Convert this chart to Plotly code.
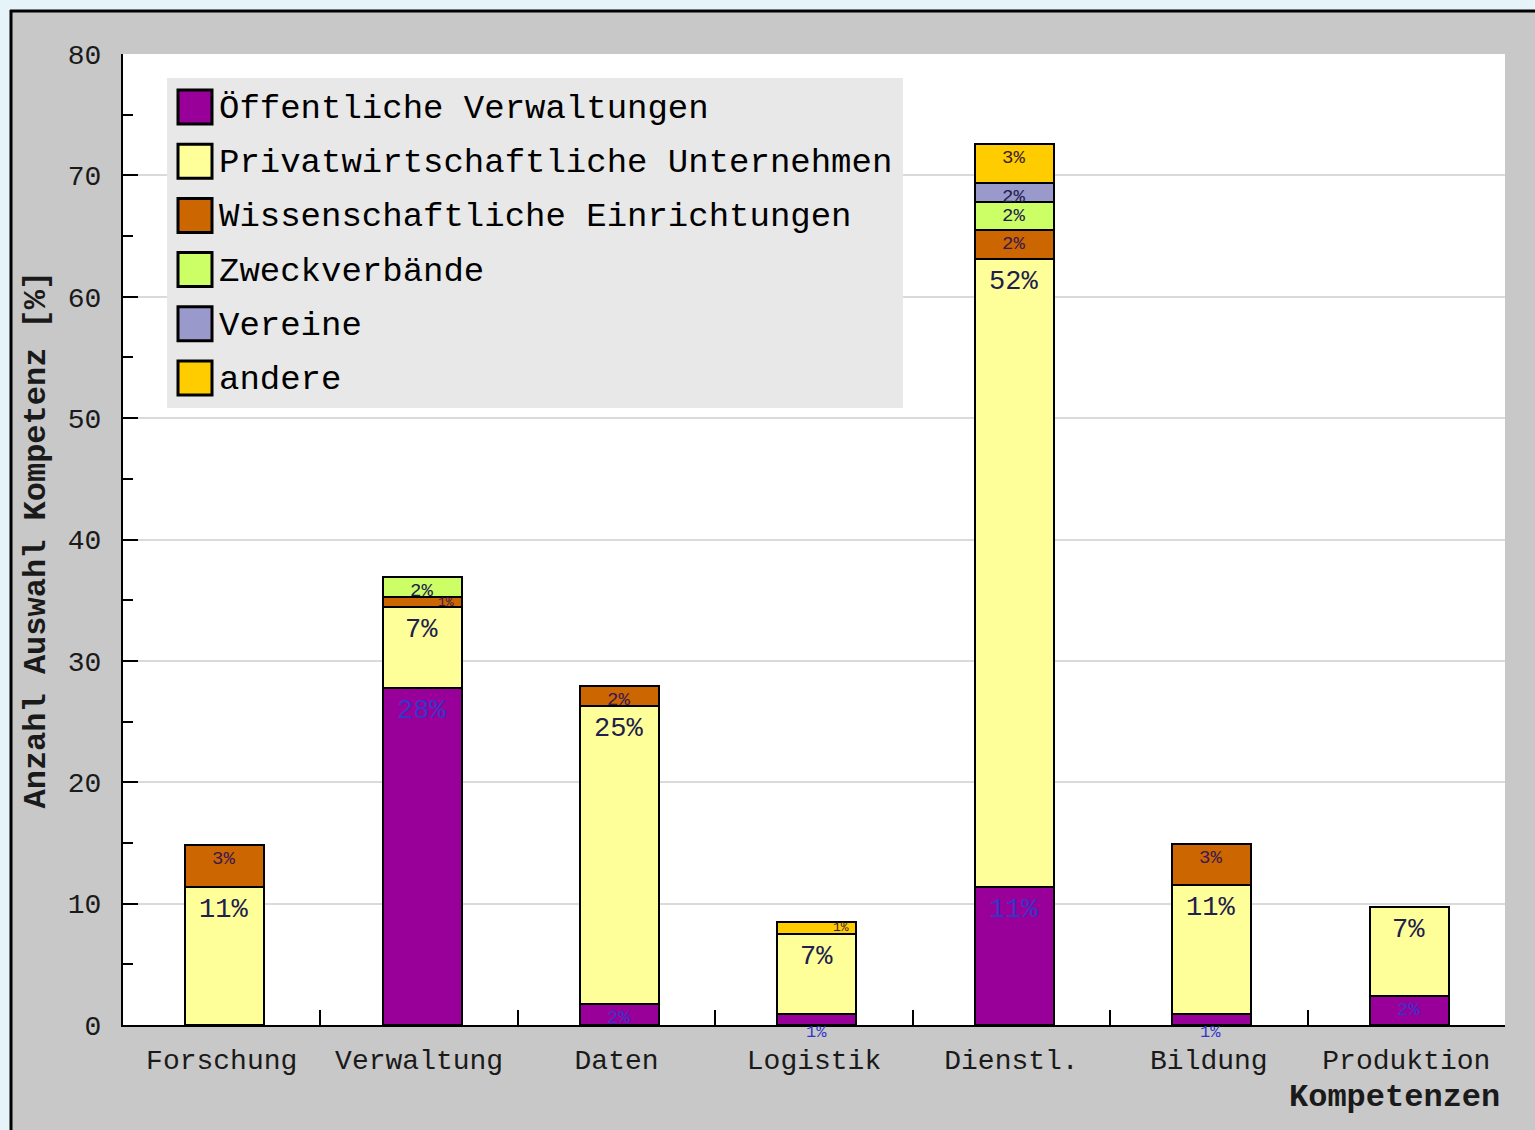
import plotly.graph_objects as go

# Kompetenzfelder und Anteile je Organisationstyp (in %)
categories = ["Forschung", "Verwaltung", "Daten", "Logistik", "Dienstl.", "Bildung", "Produktion"]
series_names = [
    "Öffentliche Verwaltungen",
    "Privatwirtschaftliche Unternehmen",
    "Wissenschaftliche Einrichtungen",
    "Zweckverbände",
    "Vereine",
    "andere",
]
oeffentlich = [None, 27.8, 1.7, 0.9, 11.4, 0.9, 2.4]
privat = [11.4, 6.6, 24.6, 6.6, 51.7, 10.6, 7.3]
wissenschaft = [3.4, 0.9, 1.6, None, 2.4, 3.4, None]
zweckverband = [None, 1.6, None, None, 2.3, None, None]
vereine = [None, None, None, None, 1.6, None, None]
andere = [None, None, None, 1.0, 3.2, None, None]
y_ticks = [0, 10, 20, 30, 40, 50, 60, 70, 80]

series_values = [oeffentlich, privat, wissenschaft, zweckverband, vereine, andere]
colors = ["#990099", "#ffff99", "#cc6600", "#ccff66", "#9999cc", "#ffcc00"]
label_colors = ["#3535c8", "#20204c", "#3a1850", "#20204c", "#20204c", "#3a2030"]

FONT = "Liberation Mono"

# Geometrie des Diagrammbereichs (Pixel)
W_FIG, H_FIG = 1535, 1130
L, R, T, B = 123, 1505, 54, 1025
PW, PH = R - L, B - T


def px(x):
    return (x - L) / PW


def py(y):
    return (B - y) / PH


fig = go.Figure()

BAR_W = 0.4
for name, vals, col in zip(series_names, series_values, colors):
    fig.add_trace(go.Bar(
        name=name,
        x=categories,
        y=vals,
        width=BAR_W,
        offset=-BAR_W / 2 + 0.015,
        marker=dict(color=col, line=dict(color="black", width=2)),
        showlegend=False,
        hoverinfo="x+y+name",
    ))

# Prozentbeschriftungen je Segment
annotations = []
base = [0.0] * len(categories)
for vals, lc in zip(series_values, label_colors):
    for i, v in enumerate(vals):
        if v is None:
            continue
        top = base[i] + v
        label = dict(x=categories[i], xref="x", yref="y", xshift=2,
                     text=f"{v:.0f}%", showarrow=False)
        if v >= 4:
            label.update(y=top, yanchor="top", yshift=-6,
                         font=dict(family=FONT, size=27, color=lc))
        elif v >= 1.2:
            label.update(y=top, yanchor="top", yshift=-1,
                         font=dict(family=FONT, size=19, color=lc))
        elif base[i] > 0:
            # sehr schmales Segment: Beschriftung mittig, seitlich versetzt
            label.update(y=base[i] + v / 2, yanchor="middle", xshift=27,
                         font=dict(family=FONT, size=13, color=lc))
        else:
            label.update(y=top, yanchor="top", yshift=-7,
                         font=dict(family=FONT, size=17, color=lc))
        annotations.append(label)
        base[i] = top

# Achsentitel
annotations.append(dict(
    x=px(36), y=0.5, xref="paper", yref="paper", textangle=-90,
    text="<b>Anzahl Auswahl Kompetenz [%]</b>", showarrow=False,
    xanchor="center", yanchor="middle",
    font=dict(family=FONT, size=32, color="#1a1a1a"),
))
annotations.append(dict(
    x=px(1502), y=py(1097), xref="paper", yref="paper",
    text="<b>Kompetenzen</b>", showarrow=False,
    xanchor="right", yanchor="middle",
    font=dict(family=FONT, size=32, color="#1a1a1a"),
))

shapes = [
    # grauer Rahmen mit schwarzer Kante oben/links
    dict(type="rect", xref="paper", yref="paper", x0=px(10), x1=px(W_FIG + 5),
         y0=py(H_FIG + 5), y1=py(10), fillcolor="#c8c8c8", line=dict(width=0), layer="below"),
    dict(type="line", xref="paper", yref="paper", x0=px(10), x1=px(W_FIG + 5),
         y0=py(11), y1=py(11), line=dict(color="black", width=3), layer="below"),
    dict(type="line", xref="paper", yref="paper", x0=px(11), x1=px(11),
         y0=py(H_FIG + 5), y1=py(10), line=dict(color="black", width=3), layer="below"),
    # weiße Zeichenfläche
    dict(type="rect", xref="paper", yref="paper", x0=0, x1=1, y0=0, y1=1,
         fillcolor="white", line=dict(width=0), layer="below"),
    # Legendenhintergrund
    dict(type="rect", xref="paper", yref="paper", x0=px(167), x1=px(903),
         y0=py(408), y1=py(78), fillcolor="#e8e8e8", line=dict(width=0), layer="above"),
]

# Legende
row0, row_step = 107, 54.2
for k, (name, col) in enumerate(zip(series_names, colors)):
    yc = row0 + k * row_step
    shapes.append(dict(
        type="rect", xref="paper", yref="paper",
        x0=px(178), x1=px(212), y0=py(yc + 17), y1=py(yc - 17),
        fillcolor=col, line=dict(color="black", width=3), layer="above",
    ))
    annotations.append(dict(
        x=px(217), y=py(yc + 2), xref="paper", yref="paper",
        text=name, showarrow=False, xanchor="left", yanchor="middle",
        font=dict(family=FONT, size=34, color="black"),
    ))

fig.update_layout(
    width=W_FIG, height=H_FIG,
    margin=dict(l=L, r=W_FIG - R, t=T, b=H_FIG - B, pad=0),
    paper_bgcolor="#e6f4fa",
    plot_bgcolor="white",
    barmode="stack",
    font=dict(family=FONT, color="#1a1a1a"),
    shapes=shapes,
    annotations=annotations,
    xaxis=dict(
        type="category",
        categoryorder="array", categoryarray=categories,
        range=[-0.5, len(categories) - 0.5],
        showgrid=False, zeroline=False,
        showline=True, linecolor="black", linewidth=2,
        ticks="inside", tickson="boundaries", ticklen=15, tickwidth=2, tickcolor="black",
        tickfont=dict(family=FONT, size=28, color="#1a1a1a"),
        ticklabelstandoff=8,
        fixedrange=True,
    ),
    yaxis=dict(
        range=[0, 80],
        tickvals=y_ticks,
        showgrid=True, gridcolor="#dadada", gridwidth=2,
        zeroline=False,
        showline=True, linecolor="black", linewidth=2,
        ticks="inside", ticklen=15, tickwidth=2, tickcolor="black",
        minor=dict(dtick=5, ticks="inside", ticklen=10, tickwidth=2, tickcolor="black", showgrid=False),
        tickfont=dict(family=FONT, size=28, color="#1a1a1a"),
        ticklabelstandoff=14,
        fixedrange=True,
    ),
)

fig.write_html("out.html", config={"displayModeBar": False})
